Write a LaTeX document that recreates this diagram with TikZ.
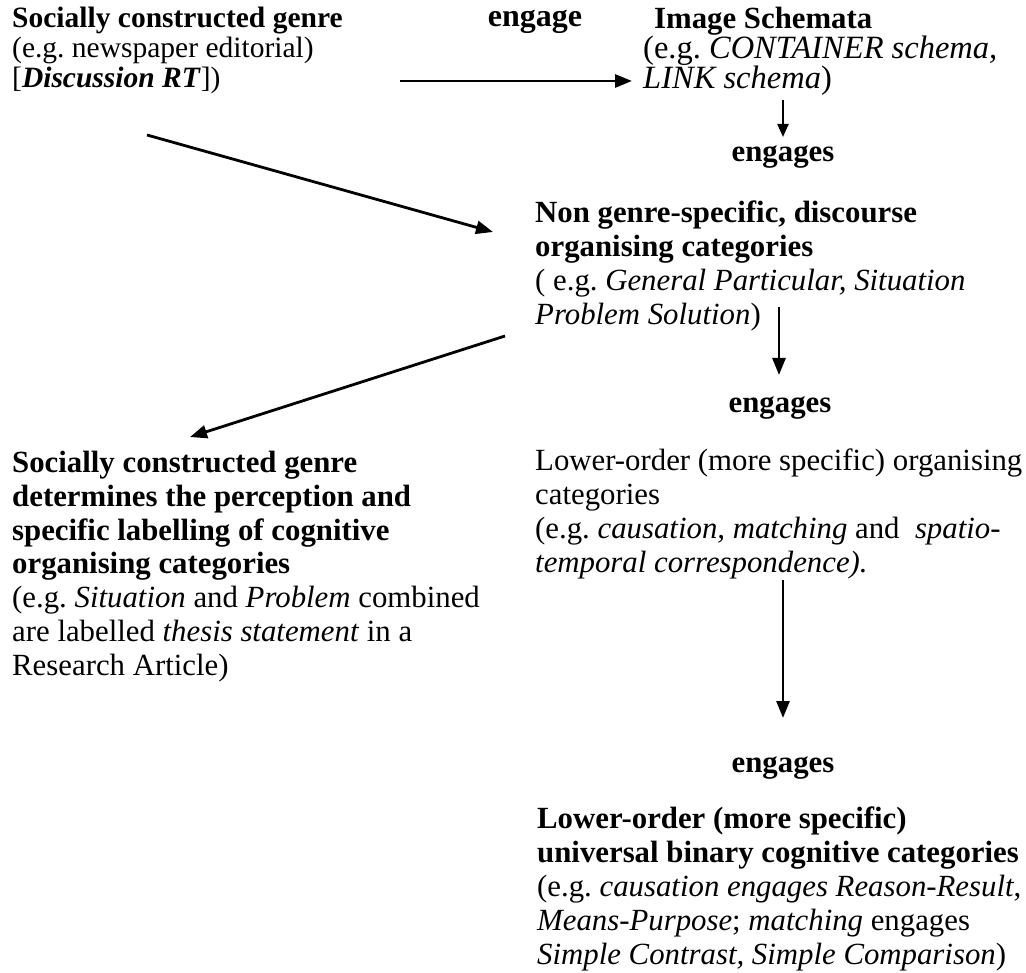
\documentclass[tikz,border=0pt]{standalone}
\usepackage{fontspec}
\setmainfont{Liberation Serif}
\usetikzlibrary{arrows.meta}
\frenchspacing
\tikzset{
  blk/.style={anchor=north west, inner sep=0pt, align=left,
    font=\fontsize{30.8}{33.8}\selectfont},
  topblk/.style={blk, font=\fontsize{29.5}{30}\selectfont},
  verb/.style={anchor=base, inner sep=0pt, font=\fontsize{30.8}{33.8}\selectfont\bfseries},
  arr/.style={line width=2.8pt, -{Triangle[length=17pt,width=13pt]}},
}
\begin{document}
\begin{tikzpicture}[x=1pt,y=-1pt]
\useasboundingbox (0,0) rectangle (1026,973);

% text blocks
\node[topblk] (genre) at (12,7)
  {\textbf{Socially constructed genre}\\
   (e.g. newspaper editorial)\\
   {[}\textbf{\textit{Discussion RT}}])};
\node[verb, font=\fontsize{32}{33.8}\selectfont\bfseries] (engage) at (535,27) {engage};
\node[topblk, font=\fontsize{30.8}{30}\selectfont] (schemata) at (643,7)
  {\hspace{11pt}\textbf{Image Schemata}\\
   \fontsize{32.5}{30}\selectfont(e.g. \textit{CONTAINER schema,}\\
   \fontsize{32.5}{30}\selectfont\textit{LINK schema})};
\node[verb] (eng1) at (783,162) {engages};
\node[blk] (nongenre) at (535,201)
  {\textbf{Non genre-specific, discourse}\\
   \textbf{organising categories}\\
   ( e.g. \textit{General Particular, Situation}\\
   \textit{Problem Solution})};
\node[verb] (eng2) at (780,413) {engages};
\node[blk] (lower) at (535,449)
  {Lower-order (more specific) organising\\
   categories\\
   (e.g. \textit{causation, matching} and\hspace{0.5em}\textit{spatio-}\\
   \textit{temporal correspondence).}};
\node[blk] (determines) at (12,451)
  {\textbf{Socially constructed genre}\\
   \textbf{determines the perception and}\\
   \textbf{specific labelling of cognitive}\\
   \textbf{organising categories}\\
   (e.g. \textit{Situation} and \textit{Problem} combined\\
   are labelled \textit{thesis statement} in a\\
   Research Article)};
\node[verb] (eng3) at (783,772) {engages};
\node[blk] (binary) at (537,807)
  {\textbf{Lower-order (more specific)}\\
   \textbf{universal binary cognitive categories}\\
   (e.g. \textit{causation engages Reason-Result},\\
   \textit{Means-Purpose}; \textit{matching} engages\\
   \textit{Simple Contrast, Simple Comparison})};

% connector end points
\coordinate (g-out)  at (400,81);
\coordinate (s-in)   at (632,81);
\coordinate (s-out)  at (783,100);
\coordinate (e1-in)  at (783,137);
\coordinate (g-diag) at (147,135);
\coordinate (n-in)   at (493,232);
\coordinate (n-out)  at (779,307);
\coordinate (e2-in)  at (779,375);
\coordinate (n-diag) at (505,336);
\coordinate (d-in)   at (190,437);
\coordinate (l-out)  at (783,580);
\coordinate (e3-in)  at (783,718);

% connectors
\draw[arr] (g-out) -- (s-in);
\draw[arr, line width=2.2pt, -{Triangle[length=13pt,width=11pt]}] (s-out) -- (e1-in);
\draw[arr] (g-diag) -- (n-in);
\draw[arr] (n-out) -- (e2-in);
\draw[arr] (n-diag) -- (d-in);
\draw[arr] (l-out) -- (e3-in);
\end{tikzpicture}
\end{document}
